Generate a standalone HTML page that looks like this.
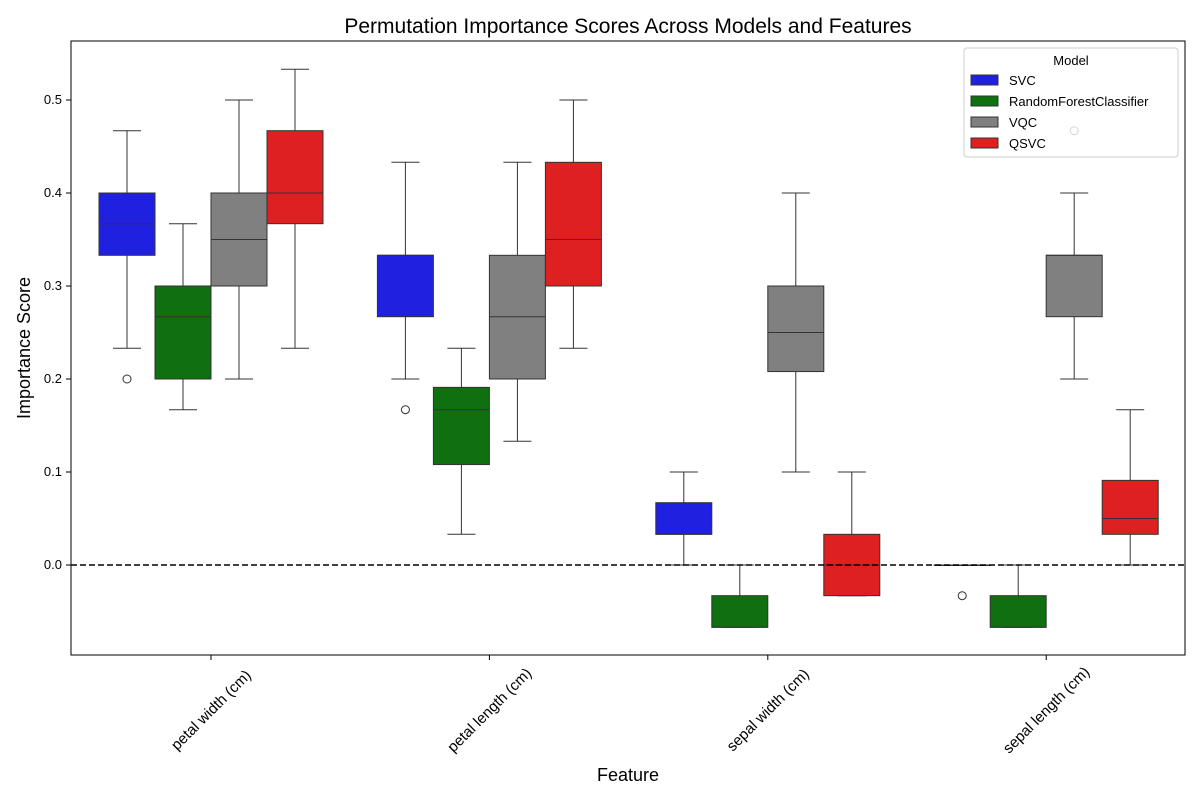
<!DOCTYPE html>
<html><head><meta charset="utf-8"><style>
body{margin:0;background:#fff;font-family:"Liberation Sans","DejaVu Sans",sans-serif}
</style></head><body>
<svg id="chart" width="1200" height="800" xmlns="http://www.w3.org/2000/svg" font-family="Liberation Sans, DejaVu Sans, sans-serif">
<rect width="1200" height="800" fill="#fff"/>
<text x="628" y="33" font-size="21" text-anchor="middle">Permutation Importance Scores Across Models and Features</text>
<g id="plot"></g>
<rect x="71" y="41" width="1114" height="614" fill="none" stroke="#000" stroke-width="1"/>
<text x="628" y="781" font-size="18" text-anchor="middle">Feature</text>
<text x="30" y="348" font-size="18" text-anchor="middle" transform="rotate(-90 30 348)">Importance Score</text>
<g>
<rect x="964" y="48" width="214" height="109" rx="3" fill="#fff" fill-opacity="0.8" stroke="#ccc"/>
<text x="1071" y="65" font-size="13" text-anchor="middle">Model</text>
<g id="legend-items"></g>
</g>
</svg>
<script>
const categories=["petal width (cm)","petal length (cm)","sepal width (cm)","sepal length (cm)"];
const models=["SVC","RandomForestClassifier","VQC","QSVC"];
const colors=["#2020e0","#0e700e","#808080","#df2020"];
// [whislo,q1,med,q3,whishi] per category
const svcStats=[[0.233,0.333,0.367,0.4,0.467],[0.2,0.267,0.333,0.333,0.433],[0,0.033,0.033,0.067,0.1],[0,0,0,0,0]];
const rfStats=[[0.167,0.2,0.267,0.3,0.367],[0.033,0.108,0.167,0.191,0.233],[-0.067,-0.067,-0.067,-0.033,0],[-0.067,-0.067,-0.067,-0.033,0]];
const vqcStats=[[0.2,0.3,0.35,0.4,0.5],[0.133,0.2,0.267,0.333,0.433],[0.1,0.208,0.25,0.3,0.4],[0.2,0.267,0.333,0.333,0.4]];
const qsvcStats=[[0.233,0.367,0.4,0.467,0.533],[0.233,0.3,0.35,0.433,0.5],[-0.033,-0.033,0,0.033,0.1],[0,0.033,0.05,0.091,0.167]];
const svcOutliers=[[0.2],[0.167],[],[-0.033]];
const rfOutliers=[[],[],[],[]];
const vqcOutliers=[[],[],[],[0.467]];
const qsvcOutliers=[[],[],[],[]];
const yTicks=[0,0.1,0.2,0.3,0.4,0.5];
const yTickLabels=["0.0","0.1","0.2","0.3","0.4","0.5"];

const allStats=[svcStats,rfStats,vqcStats,qsvcStats];
const allOut=[svcOutliers,rfOutliers,vqcOutliers,qsvcOutliers];
const NS="http://www.w3.org/2000/svg";
const y=v=>565-v*930;
const xc=i=>211+i*278.4;
const bw=56;
const g=document.getElementById("plot");
function mk(t,a,p){const e=document.createElementNS(NS,t);for(const k in a)e.setAttribute(k,a[k]);(p||g).appendChild(e);return e;}
yTicks.forEach((v,i)=>{
  const t=mk("line",{x1:66,x2:71,y1:y(v),y2:y(v),stroke:"#000"});
  
  
  const l=mk("text",{x:62,y:y(v)+4,"font-size":13,"text-anchor":"end"});
  l.textContent=yTickLabels[i];
  
  
});
categories.forEach((c,i)=>{
  const x=xc(i);
  const t=mk("line",{x1:x,x2:x,y1:655,y2:660,stroke:"#000"});
  
  
  const l=mk("text",{x:x,y:715,"font-size":15,"text-anchor":"middle",transform:`rotate(-45 ${x} 710)`});
  l.textContent=c;
  
  
});
allStats.forEach((stats,m)=>{
  stats.forEach((s,i)=>{
    const cx=xc(i)+(m-1.5)*bw;
    const grp=mk("g",{});
    
    
    mk("line",{x1:cx,x2:cx,y1:y(s[0]),y2:y(s[1]),stroke:"#333"},grp);
    mk("line",{x1:cx,x2:cx,y1:y(s[3]),y2:y(s[4]),stroke:"#333"},grp);
    mk("line",{x1:cx-bw/4,x2:cx+bw/4,y1:y(s[0]),y2:y(s[0]),stroke:"#333"},grp);
    mk("line",{x1:cx-bw/4,x2:cx+bw/4,y1:y(s[4]),y2:y(s[4]),stroke:"#333"},grp);
    mk("rect",{x:cx-bw/2,y:y(s[3]),width:bw,height:Math.max(0.5,y(s[1])-y(s[3])),fill:colors[m],stroke:"#333"},grp);
    mk("line",{x1:cx-bw/2,x2:cx+bw/2,y1:y(s[2]),y2:y(s[2]),stroke:"#333"},grp);
    allOut[m][i].forEach(o=>{
      const c=mk("circle",{cx:cx,cy:y(o),r:4,fill:"none",stroke:"#333"},grp);
      
      
    });
  });
});
const z=mk("line",{x1:71,x2:1185,y1:y(0),y2:y(0),stroke:"#000","stroke-width":1.6,"stroke-dasharray":"6,3"});


const lg=document.getElementById("legend-items");
models.forEach((m,i)=>{
  const yy=80+i*21;
  const r=mk("rect",{x:971,y:yy-5,width:27,height:10,fill:colors[i],stroke:"#333"},lg);
  
  
  const t=mk("text",{x:1009,y:yy+5,"font-size":13},lg);
  t.textContent=m;
  
  
});
</script>
</body></html>
